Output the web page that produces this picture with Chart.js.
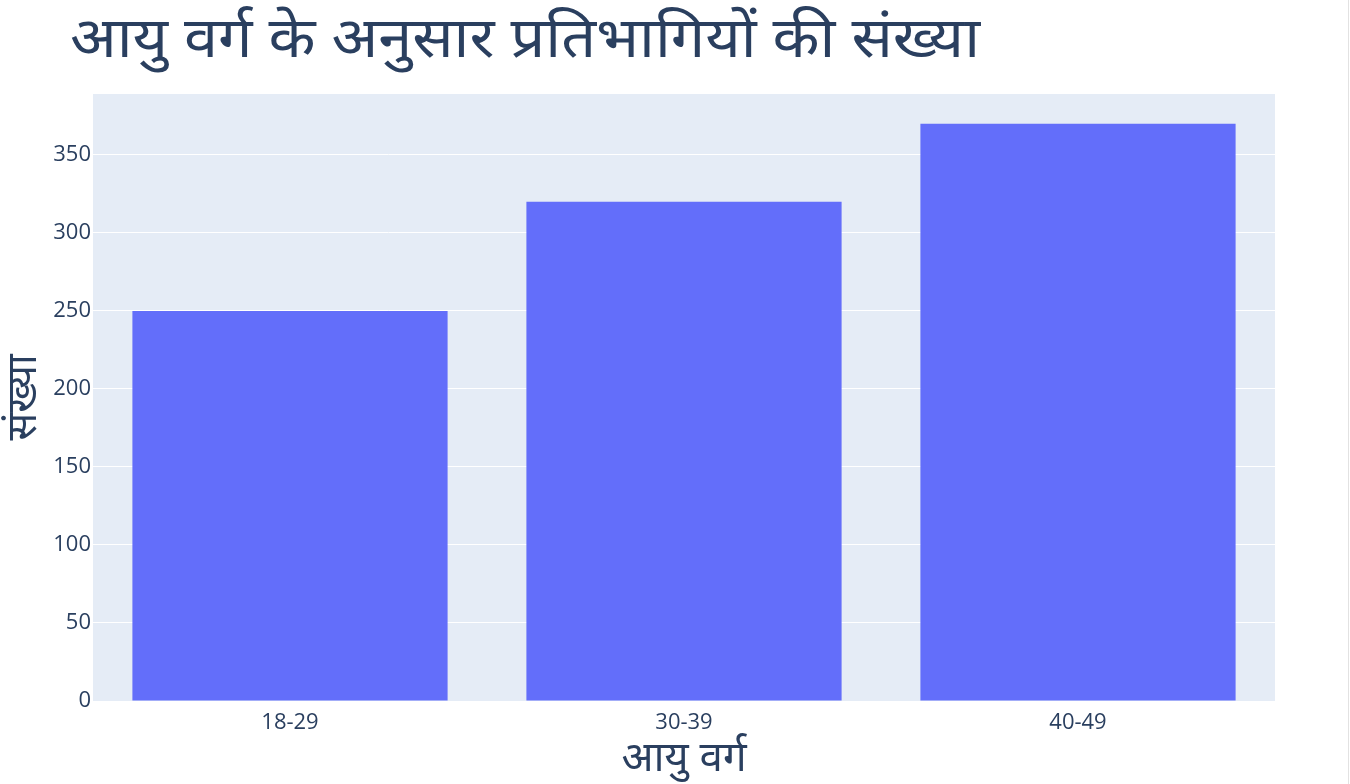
<!DOCTYPE html>
<html>
<head>
<meta charset="utf-8">
<script src="https://cdn.jsdelivr.net/npm/chart.js@4"></script>
<style>
  html, body { margin: 0; padding: 0; background: #fff; }
  #wrap { position: relative; width: 1350px; height: 784px; }
  #edge { position: absolute; right: 1px; top: 0; width: 1px; height: 784px; background: #e2e2e2; }
</style>
</head>
<body>
<div id="wrap">
  <canvas id="chart" width="1350" height="784"></canvas>
  <div id="edge"></div>
</div>
<script>
const chartTitle = 'आयु वर्ग के अनुसार प्रतिभागियों की संख्या';
const xTitle = 'आयु वर्ग';
const yTitle = 'संख्या';
const ageGroups = ['18-29', '30-39', '40-49'];
const counts = [250, 320, 370];
const yTicks = [0, 50, 100, 150, 200, 250, 300, 350];

const textColor = '#2a3f5f';
const tickFont = { family: '"Open Sans", sans-serif', size: 22 };
const hindiFont = '"Noto Sans", "Noto Sans Devanagari", sans-serif';

// plot background + title drawn on the canvas
const plotBg = {
  id: 'plotBg',
  beforeDraw(chart) {
    const { ctx, chartArea: a } = chart;
    ctx.save();
    ctx.fillStyle = '#e5ecf6';
    ctx.fillRect(a.left, a.top, a.right - a.left, a.bottom - a.top);
    ctx.restore();
  },
  afterDraw(chart) {
    const ctx = chart.ctx;
    ctx.save();
    ctx.fillStyle = textColor;
    ctx.font = '56px ' + hindiFont;
    ctx.textBaseline = 'alphabetic';
    // the original title is set wider than our font, stretch it to ~910px
    const w = ctx.measureText(chartTitle).width;
    ctx.translate(70, 57);
    ctx.scale(910 / w, 1);
    ctx.fillText(chartTitle, 0, 0);
    ctx.restore();
  }
};

new Chart(document.getElementById('chart'), {
  type: 'bar',
  data: {
    labels: ageGroups,
    datasets: [{
      data: counts,
      backgroundColor: '#636efa',
      borderWidth: 0,
      categoryPercentage: 0.8,
      barPercentage: 1.0
    }]
  },
  options: {
    responsive: false,
    animation: false,
    layout: { padding: { top: 94, right: 75, bottom: 0, left: 0 } },
    plugins: {
      legend: { display: false },
      tooltip: { enabled: false }
    },
    scales: {
      x: {
        grid: { display: false },
        border: { display: false },
        ticks: { color: textColor, font: tickFont, padding: 1 },
        title: {
          display: true, text: xTitle, color: textColor,
          font: { family: hindiFont, size: 42 }, padding: { top: 0, bottom: 0 }
        },
        afterFit(scale) { scale.height = 83; }
      },
      y: {
        min: 0,
        max: 389,
        grid: { color: '#ffffff', lineWidth: 1, drawTicks: false },
        border: { display: false },
        ticks: { color: textColor, font: tickFont, stepSize: 50, padding: 2 },
        afterBuildTicks(scale) {
          scale.ticks = yTicks.map(v => ({ value: v }));
        },
        title: {
          display: true, text: yTitle, color: textColor,
          font: { family: hindiFont, size: 41 }, padding: 0
        },
        afterFit(scale) { scale.width = 93; }
      }
    }
  },
  plugins: [plotBg]
});
</script>
</body>
</html>
